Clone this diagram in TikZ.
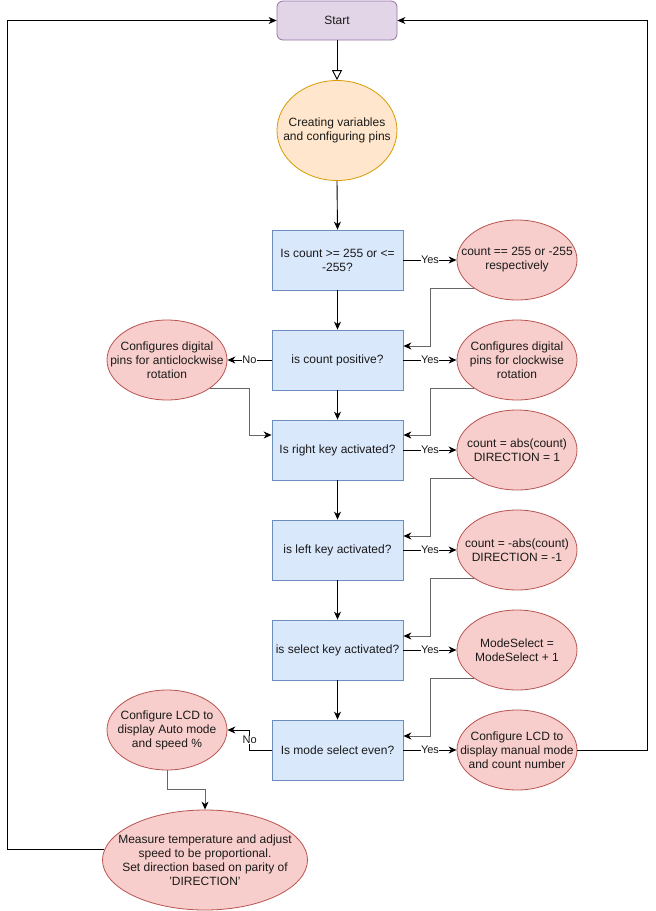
\documentclass[tikz,border=0pt]{standalone}
\usepackage{fontspec}
\setmainfont{Liberation Sans}
\usetikzlibrary{arrows.meta,shapes.geometric}

\definecolor{startfill}{HTML}{E1D5E7}\definecolor{startline}{HTML}{9673A6}
\definecolor{initfill}{HTML}{FFE6CC}\definecolor{initline}{HTML}{D79B00}
\definecolor{boxfill}{HTML}{DAE8FC}\definecolor{boxline}{HTML}{6C8EBF}
\definecolor{redfill}{HTML}{F8CECC}\definecolor{redline}{HTML}{B85450}
\definecolor{txt}{HTML}{1A1A1A}
\definecolor{wire}{HTML}{666666}

\tikzset{
  base/.style={font=\fontsize{12pt}{14pt}\selectfont, text=txt, align=center, line width=0.8pt},
  startbox/.style={base, rectangle, rounded corners=6pt, draw=startline, fill=startfill,
    minimum width=120pt, minimum height=39pt, inner sep=0pt},
  initell/.style={base, ellipse, draw=initline, fill=initfill,
    minimum width=120pt, minimum height=100pt, inner sep=-40pt},
  stepbox/.style={base, rectangle, draw=boxline, fill=boxfill,
    minimum width=131pt, minimum height=60pt, inner sep=0pt},
  redell/.style={base, ellipse, draw=redline, fill=redfill,
    minimum width=120pt, minimum height=80pt, inner sep=-40pt},
  arr/.style={draw=black, line width=0.9pt, -{Stealth[length=8pt,width=7pt,inset=2.5pt]}},
  fb/.style={draw=wire, line width=1pt, -{Stealth[length=8pt,width=7pt,inset=2.5pt,color=black]}},
  lbl/.style={font=\fontsize{11pt}{13pt}\selectfont, text=txt, fill=white, inner sep=0.5pt},
}

\begin{document}
\begin{tikzpicture}[x=1pt,y=-1pt]
\useasboundingbox (0,0) rectangle (656,911);

% main column
\node[startbox] (start) at (337,20.5) {Start};
\node[initell] (init) at (337,130.5) {Creating variables\\and configuring pins};
\node[stepbox] (b1) at (337.5,260) {Is count >= 255 or <=\\-255?};
\node[stepbox] (b2) at (337.5,360) {is count positive?};
\node[stepbox] (b3) at (337.5,450) {Is right key activated?};
\node[stepbox] (b4) at (337.5,550) {is left key activated?};
\node[stepbox] (b5) at (337.5,650) {is select key activated?};
\node[stepbox] (b6) at (337.5,750) {Is mode select even?};

% actions on the right
\node[redell] (e1) at (517,260) {count == 255 or -255\\respectively};
\node[redell] (e2) at (517,360) {Configures digital\\pins for clockwise\\rotation};
\node[redell] (e3) at (517,450) {count = abs(count)\\DIRECTION = 1};
\node[redell] (e4) at (517,550) {count = -abs(count)\\DIRECTION = -1};
\node[redell] (e5) at (517,650) {ModeSelect =\\ModeSelect + 1};
\node[redell] (e6) at (517,750) {Configure LCD to\\display manual mode\\and count number};

% actions on the left
\node[redell] (ac) at (167,360) {Configures digital\\pins for anticlockwise\\rotation};
\node[redell] (auto) at (167,730) {Configure LCD to\\display Auto mode\\and speed \%};
\node[redell, minimum width=205pt, minimum height=100pt] (meas) at (205,860)
  {Measure temperature and adjust\\speed to be proportional.\\Set direction based on parity of\\'DIRECTION'};

% vertical flow
\draw[draw=black, line width=0.9pt, -{Triangle[open,length=10pt,width=10pt]}] (start.south) -- (init.north);
\draw[arr] (init.south) -- (b1.north);
\draw[arr] (b1.south) -- (b2.north);
\draw[arr] (b2.south) -- (b3.north);
\draw[arr] (b3.south) -- (b4.north);
\draw[arr] (b4.south) -- (b5.north);
\draw[arr] (b5.south) -- (b6.north);

% yes branches
\draw[arr] (b1.east) -- node[lbl]{Yes} (e1.west);
\draw[arr] (b2.east) -- node[lbl]{Yes} (e2.west);
\draw[arr] (b3.east) -- node[lbl]{Yes} (e3.west);
\draw[arr] (b4.east) -- node[lbl]{Yes} (e4.west);
\draw[arr] (b5.east) -- node[lbl]{Yes} (e5.west);
\draw[arr] (b6.east) -- node[lbl]{Yes} (e6.west);

% no branches
\draw[arr] (b2.west) -- node[lbl]{No} (ac.east);
\draw[arr] (b6.west) -- ++(-22,0) |- node[lbl, pos=0.25]{No} (auto.east);

% returns into the main column
\draw[fb] (e1.213) -| ([shift={(27pt,14pt)}]b2.east) -- ([yshift=14pt]b2.east);
\draw[fb] (e2.213) -| ([shift={(27pt,15pt)}]b3.east) -- ([yshift=15pt]b3.east);
\draw[fb] (e3.213) -| ([shift={(27pt,14pt)}]b4.east) -- ([yshift=14pt]b4.east);
\draw[fb] (e4.213) -| ([shift={(27pt,14pt)}]b5.east) -- ([yshift=14pt]b5.east);
\draw[fb] (e5.213) -| ([shift={(27pt,14pt)}]b6.east) -- ([yshift=14pt]b6.east);
\draw[fb] (ac.-33) -| ([shift={(-22pt,15pt)}]b3.west) -- ([yshift=15pt]b3.west);
\draw[fb] (auto.south) |- ([yshift=20pt]meas.north) -- (meas.north);

% loops back to start
\draw[arr] (meas.174) -| ([xshift=-269pt]start.west) -- (start.west);
\draw[arr] (e6.east) -| ([xshift=250pt]start.east) -- (start.east);
\end{tikzpicture}
\end{document}
